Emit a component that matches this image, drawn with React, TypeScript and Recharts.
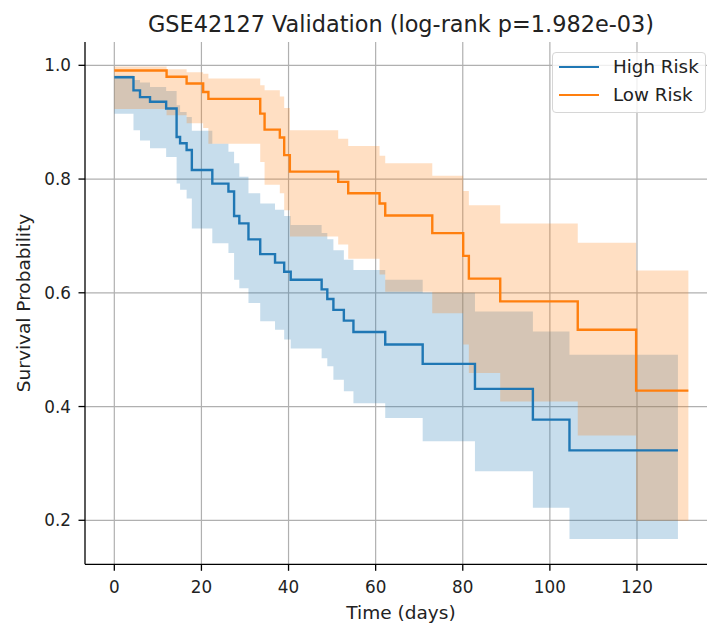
import React from 'react';
import {
  ComposedChart,
  Line,
  Area,
  XAxis,
  YAxis,
  CartesianGrid,
} from 'recharts';

// ---- High Risk group (Kaplan-Meier) ----
const highTimes = [0, 4.4, 5.9, 8.2, 11.9, 14.3, 15.1, 16.6, 17.8, 22.5, 26.2, 27.5, 28.7, 30.8, 33.5, 36.9, 39.0, 40.5, 47.6, 48.9, 50.3, 52.7, 54.9, 62.2, 70.8, 82.8, 96.1, 104.5, 129.4];
const highSurv = [0.979, 0.956, 0.944, 0.936, 0.924, 0.874, 0.863, 0.851, 0.816, 0.792, 0.778, 0.735, 0.722, 0.694, 0.668, 0.653, 0.637, 0.623, 0.606, 0.589, 0.57, 0.551, 0.531, 0.509, 0.475, 0.431, 0.377, 0.323, 0.323];
const highUpper = [0.982, 0.974, 0.97, 0.962, 0.955, 0.93, 0.918, 0.909, 0.885, 0.862, 0.848, 0.828, 0.804, 0.775, 0.757, 0.746, 0.735, 0.719, 0.705, 0.694, 0.675, 0.658, 0.64, 0.623, 0.6, 0.567, 0.532, 0.491, 0.491];
const highLower = [0.915, 0.886, 0.868, 0.854, 0.839, 0.792, 0.781, 0.766, 0.713, 0.687, 0.67, 0.623, 0.608, 0.582, 0.55, 0.535, 0.518, 0.502, 0.485, 0.471, 0.447, 0.427, 0.406, 0.38, 0.339, 0.286, 0.222, 0.167, 0.167];

// ---- Low Risk group (Kaplan-Meier) ----
const lowTimes = [0, 12.0, 16.6, 20.4, 21.6, 33.5, 34.5, 38.0, 39.0, 40.3, 51.4, 53.7, 60.9, 62.2, 73.0, 80.1, 81.4, 88.6, 106.4, 119.8, 131.8];
const lowSurv = [0.991, 0.98, 0.968, 0.953, 0.941, 0.915, 0.887, 0.873, 0.842, 0.813, 0.795, 0.775, 0.757, 0.736, 0.705, 0.665, 0.625, 0.585, 0.535, 0.428, 0.428];
const lowUpper = [0.998, 0.993, 0.988, 0.985, 0.977, 0.965, 0.956, 0.945, 0.925, 0.886, 0.871, 0.858, 0.841, 0.828, 0.806, 0.779, 0.754, 0.722, 0.688, 0.639, 0.639];
const lowLower = [0.923, 0.912, 0.898, 0.89, 0.862, 0.83, 0.79, 0.775, 0.745, 0.699, 0.685, 0.66, 0.632, 0.602, 0.564, 0.509, 0.459, 0.409, 0.349, 0.199, 0.199];

const xTicks = [0, 20, 40, 60, 80, 100, 120];
const yTicks = [0.2, 0.4, 0.6, 0.8, 1.0];
const seriesNames = ['High Risk', 'Low Risk'];
const titleText = 'GSE42127 Validation (log-rank p=1.982e-03)';
const xLabelText = 'Time (days)';
const yLabelText = 'Survival Probability';

const BLUE = '#1f77b4';
const ORANGE = '#ff7f0e';
const FONT = '"DejaVu Sans", Verdana, sans-serif';

const lineData = (times: number[], surv: number[]) => times.map((t, i) => ({ t, s: surv[i] }));
const bandData = (times: number[], lo: number[], hi: number[]) => times.map((t, i) => ({ t, band: [lo[i], hi[i]] }));

const highLine = lineData(highTimes, highSurv);
const lowLine = lineData(lowTimes, lowSurv);
const highBand = bandData(highTimes, highLower, highUpper);
const lowBand = bandData(lowTimes, lowLower, lowUpper);

const LegendBox = () => (
  <div
    style={{
      position: 'absolute',
      left: 552,
      top: 52,
      width: 154,
      height: 61,
      border: '1px solid #d6d6d6',
      borderRadius: 4,
      background: 'rgba(255,255,255,0.8)',
      boxSizing: 'border-box',
      fontFamily: FONT,
      fontSize: 18.3,
      color: '#222',
    }}
  >
    {seriesNames.map((n, i) => (
      <div key={n} style={{ position: 'absolute', left: 0, top: i === 0 ? 2 : 30, height: 26, width: '100%' }}>
        <div style={{ position: 'absolute', left: 6, top: 11, width: 40, height: 2.4, background: i === 0 ? BLUE : ORANGE }} />
        <div style={{ position: 'absolute', left: 60, top: 0, lineHeight: '24px', whiteSpace: 'nowrap' }}>{n}</div>
      </div>
    ))}
  </div>
);

export default function App() {
  return (
    <div style={{ position: 'absolute', left: 0, top: 0, width: 707, height: 623, overflow: 'hidden', background: '#fff' }}>
      <ComposedChart width={718} height={623} margin={{ top: 42, right: 0, bottom: 0, left: 0 }}>
        <XAxis
          xAxisId="bottom"
          dataKey="t"
          type="number"
          domain={[-6.73, 138.6]}
          ticks={xTicks}
          allowDataOverflow
          height={58.7}
          axisLine={{ stroke: '#000', strokeWidth: 1.3 }}
          tickLine={{ stroke: '#000', strokeWidth: 1.3 }}
          tickSize={6.5}
          tickMargin={10}
          tick={{ fill: '#222', fontSize: 16.8, fontFamily: FONT }}
          label={{
            content: () => (
              <g>
                <text x={401} y={618.5} textAnchor="middle" fill="#222" fontSize={18.5} fontFamily={FONT}>
                  {xLabelText}
                </text>
                <text x={401} y={31.7} textAnchor="middle" fill="#222" fontSize={22.4} fontFamily={FONT}>
                  {titleText}
                </text>
              </g>
            ),
          }}
        />
        <XAxis
          xAxisId="top"
          orientation="top"
          dataKey="t"
          type="number"
          domain={[-6.73, 138.6]}
          height={0}
          tick={false}
          tickLine={false}
          axisLine={{ stroke: '#000', strokeWidth: 1.3 }}
        />
        <YAxis
          yAxisId="y"
          type="number"
          domain={[0.1226, 1.041]}
          ticks={yTicks}
          allowDataOverflow
          width={85}
          axisLine={{ stroke: '#000', strokeWidth: 1.3 }}
          tickLine={{ stroke: '#000', strokeWidth: 1.3 }}
          tickSize={6.5}
          tickMargin={7.5}
          tickFormatter={(v: number) => v.toFixed(1)}
          tick={{ fill: '#222', fontSize: 16.8, fontFamily: FONT }}
          label={{
            content: () => (
              <text
                x={30}
                y={303}
                transform="rotate(-90 30 303)"
                textAnchor="middle"
                fill="#222"
                fontSize={18.5}
                fontFamily={FONT}
              >
                {yLabelText}
              </text>
            ),
          }}
        />
        <Area
          xAxisId="bottom"
          yAxisId="y"
          data={highBand}
          dataKey="band"
          type="stepAfter"
          stroke="none"
          fill={BLUE}
          fillOpacity={0.25}
          isAnimationActive={false}
          legendType="none"
          activeDot={false}
        />
        <Area
          xAxisId="bottom"
          yAxisId="y"
          data={lowBand}
          dataKey="band"
          type="stepAfter"
          stroke="none"
          fill={ORANGE}
          fillOpacity={0.25}
          isAnimationActive={false}
          legendType="none"
          activeDot={false}
        />
        <CartesianGrid
          xAxisId="bottom"
          yAxisId="y"
          stroke="#b0b0b0"
          strokeWidth={1.2}
          horizontalValues={yTicks}
          verticalValues={xTicks}
        />
        <Line
          xAxisId="bottom"
          yAxisId="y"
          data={highLine}
          dataKey="s"
          name={seriesNames[0]}
          type="stepAfter"
          stroke={BLUE}
          strokeWidth={2.4}
          dot={false}
          activeDot={false}
          isAnimationActive={false}
        />
        <Line
          xAxisId="bottom"
          yAxisId="y"
          data={lowLine}
          dataKey="s"
          name={seriesNames[1]}
          type="stepAfter"
          stroke={ORANGE}
          strokeWidth={2.4}
          dot={false}
          activeDot={false}
          isAnimationActive={false}
        />
      </ComposedChart>
      <LegendBox />
    </div>
  );
}
